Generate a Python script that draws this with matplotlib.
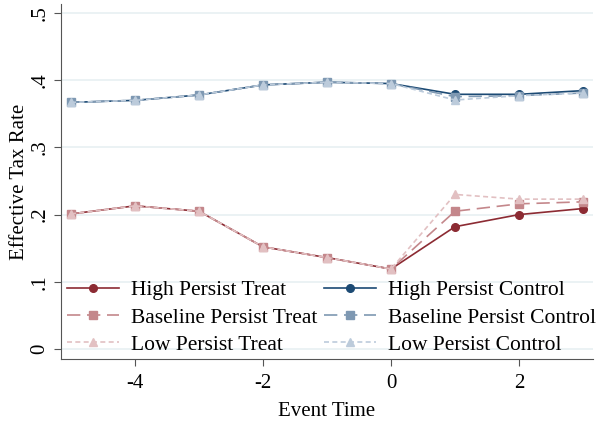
import matplotlib
matplotlib.use("Agg")
import matplotlib.pyplot as plt

plt.rcParams['font.family'] = ['Liberation Serif', 'DejaVu Serif']

event_time = [-5, -4, -3, -2, -1, 0, 1, 2, 3]

high_treat = [0.201, 0.213, 0.205, 0.152, 0.136, 0.119, 0.182, 0.200, 0.209]
base_treat = [0.201, 0.213, 0.205, 0.152, 0.136, 0.119, 0.205, 0.216, 0.219]
low_treat = [0.201, 0.213, 0.205, 0.152, 0.136, 0.119, 0.230, 0.223, 0.223]
high_ctrl = [0.367, 0.370, 0.378, 0.393, 0.397, 0.395, 0.379, 0.379, 0.3845]
base_ctrl = [0.367, 0.370, 0.378, 0.393, 0.397, 0.395, 0.3755, 0.377, 0.381]
low_ctrl = [0.367, 0.370, 0.378, 0.393, 0.397, 0.395, 0.3705, 0.377, 0.381]

yticks = [0, 0.1, 0.2, 0.3, 0.4, 0.5]
ytick_labels = ["0", ".1", ".2", ".3", ".4", ".5"]
xticks = [-4, -2, 0, 2]

fig = plt.figure(figsize=(6.0, 4.23), dpi=100)
ax = fig.add_axes([61/600, 1 - 359/423, (593-61)/600, (359-4)/423])

c_ht = '#8C2B33'
c_bt = '#C4878B'
c_lt = '#E2C0C2'
c_hc = '#1C4A74'
c_bc = '#7E98B2'
c_lc = '#BCCBDB'

ax.plot(event_time, high_treat, color=c_ht, ls='-', lw=1.2, marker='o', ms=5.5, label='High Persist Treat', zorder=3)
ax.plot(event_time, high_ctrl, color=c_hc, ls='-', lw=1.2, marker='o', ms=5.5, label='High Persist Control', zorder=3)
ax.plot(event_time, base_treat, color=c_bt, ls=(0, (8, 4)), lw=1.2, marker='s', ms=5.5, label='Baseline Persist Treat', zorder=4)
ax.plot(event_time, base_ctrl, color=c_bc, ls=(0, (8, 4)), lw=1.2, marker='s', ms=5.5, label='Baseline Persist Control', zorder=4)
ax.plot(event_time, low_treat, color=c_lt, ls=(0, (3, 2)), lw=1.2, marker='^', ms=6, label='Low Persist Treat', zorder=5)
ax.plot(event_time, low_ctrl, color=c_lc, ls=(0, (3, 2)), lw=1.2, marker='^', ms=6, label='Low Persist Control', zorder=5)

ax.set_xlim(-5.156, 3.156)
ax.set_ylim(-0.0149, 0.5134)
ax.set_yticks(yticks)
ax.set_yticklabels(ytick_labels, rotation=90, va='center')
ax.set_xticks(xticks)
ax.set_xticklabels([str(v) for v in xticks])
ax.tick_params(labelsize=15, color='#555555', length=5)
ax.tick_params(axis='x', pad=6)
ax.grid(axis='y', color='#E8F0F2', lw=1.2)
ax.set_axisbelow(True)
for s in ['top', 'right']:
    ax.spines[s].set_visible(False)
for s in ['left', 'bottom']:
    ax.spines[s].set_color('#555555')

ax.set_xlabel('Event Time', fontsize=15, labelpad=6)
ax.set_ylabel('Effective Tax Rate', fontsize=15, labelpad=1)

handles, labels = ax.get_legend_handles_labels()
order = [0, 2, 4, 1, 3, 5]
ax.legend([handles[i] for i in order], [labels[i] for i in order], ncol=2, frameon=False,
          loc='lower left', bbox_to_anchor=(-0.013, -0.025), fontsize=15.5, handlelength=2.4,
          columnspacing=0.35, labelspacing=0.34, borderaxespad=0.2, handletextpad=0.55)

fig.savefig('out.png', dpi=100)
